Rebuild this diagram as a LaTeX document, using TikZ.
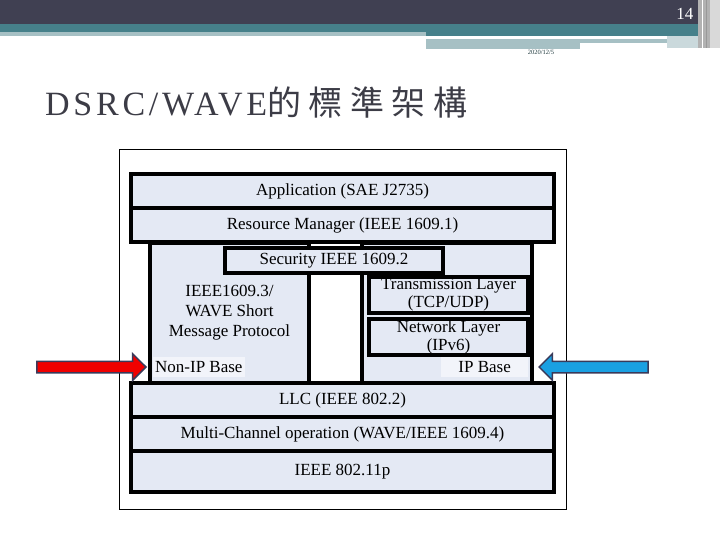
\documentclass[tikz,border=0pt]{standalone}
\usepackage{fontspec}
\setmainfont{Liberation Serif}
\newfontfamily\titlefont[LetterSpace=11]{Liberation Serif}
\newfontfamily\titlecjk[LetterSpace=22]{Noto Sans CJK TC}
\usetikzlibrary{positioning, shapes.arrows}

\definecolor{layerfill}{RGB}{228,233,244}
\definecolor{headdark}{RGB}{64,64,82}
\definecolor{headteal}{RGB}{70,128,138}
\definecolor{headlight}{RGB}{166,192,196}
\definecolor{titlegray}{RGB}{60,60,70}
\definecolor{arrowline}{RGB}{58,58,90}
\definecolor{ipblue}{RGB}{26,160,226}
\definecolor{nonipred}{RGB}{240,0,0}

\begin{document}
\begin{tikzpicture}[
    x=1pt, y=-1pt,
    wide/.style      = {rectangle, draw, line width=3.5pt, fill=layerfill,
                        minimum width=423pt, minimum height=34pt,
                        inner sep=0pt, outer sep=0pt,
                        font=\fontsize{17}{20}\selectfont},
    stack/.style     = {rectangle, draw, line width=3.5pt, fill=layerfill,
                        minimum height=140pt, inner sep=0pt, outer sep=0pt,
                        align=center, font=\fontsize{17}{20}\selectfont},
    sub/.style       = {rectangle, draw, line width=3.5pt, fill=layerfill,
                        minimum width=159pt, minimum height=36pt,
                        inner sep=0pt, outer sep=0pt, align=center,
                        font=\fontsize{17}{18}\selectfont},
    baselabel/.style = {fill=layerfill!50!white, inner xsep=2pt, inner ysep=0pt,
                        minimum height=20pt, font=\fontsize{17}{20}\selectfont},
    blockarrow/.style= {single arrow, draw=arrowline, line width=1.5pt,
                        minimum height=109pt, minimum width=25pt,
                        single arrow head extend=7.5pt,
                        inner xsep=0pt, inner ysep=5pt}
]
\useasboundingbox (0,0) rectangle (720,540);

% ========= slide header =========
\fill[headdark]  (0,0)    rectangle (698,24);
\fill[headteal]  (0,24)   rectangle (698,32);
\fill[headlight] (0,32)   rectangle (426,36);
\fill[headteal]  (426,32) rectangle (698,36);
\fill[headlight] (426,39) rectangle (667,43);
\fill[headlight] (426,43) rectangle (580,49);
\fill[headlight!60!white] (667,36) rectangle (698,48);
\fill[gray!60]   (698,0)  rectangle (710,48);
\fill[gray!30]   (710,0)  rectangle (720,48);
\draw[white, line width=1pt] (702,0) -- (702,48);
\draw[gray!80, line width=1pt] (706,0) -- (706,48);

\node[text=white, font=\fontsize{17}{17}\selectfont, anchor=east] (pagenum) at (697,14) {14};
\node[text=headteal!45!black, font=\fontsize{6.5}{7}\selectfont] (date) at (541,52) {2020/12/5};

% ========= title =========
\node[anchor=west, inner sep=0pt, text=titlegray] (title) at (45,102)
    {\fontsize{34}{36}\selectfont\titlefont DSRC/WAVE\fontsize{34}{36}\selectfont\titlecjk 的標準架構};

% ========= protocol stack =========
\node[draw, line width=1pt, minimum width=447pt, minimum height=359pt,
      inner sep=0pt] (frame) at (342.5,329.5) {};

\node[wide]                  (app) at (342.5,191) {Application (SAE J2735)};
\node[wide, below=0pt of app] (res) {Resource Manager (IEEE 1609.1)};

\node[stack, minimum width=159pt] (leftstack) at (229.5,313)
    {IEEE1609.3/\\WAVE Short\\Message Protocol};
\node[stack, minimum width=170pt] (rightstack) at (447,313) {};

\node[wide, minimum width=218pt, minimum height=25pt] (security) at (334,260.5)
    {Security IEEE 1609.2};
\node[sub] (trans) at (448.5,295) {Transmission Layer\\(TCP/UDP)};
\node[sub] (net)   at (448.5,337) {Network Layer\\(IPv6)};

\node[wide]                   (llc) at (342.5,400) {LLC (IEEE 802.2)};
\node[wide, below=0pt of llc] (mco) {Multi-Channel operation (WAVE/IEEE 1609.4)};
\node[wide, below=0pt of mco, minimum height=41pt] (phy) {IEEE 802.11p};

% ========= base labels and pointers =========
\node[baselabel, anchor=west] (nonipbase) at (153,367) {Non-IP Base};
\node[baselabel, anchor=east, inner xsep=17pt] (ipbase) at (528,367) {IP Base};

\node[blockarrow, fill=nonipred, anchor=tip] (nonip)
    at ([xshift=-3pt]leftstack.west |- nonipbase) {};
\node[blockarrow, fill=ipblue, shape border rotate=180, anchor=tip] (ip)
    at ([xshift=6pt]rightstack.east |- ipbase) {};
\end{tikzpicture}
\end{document}
